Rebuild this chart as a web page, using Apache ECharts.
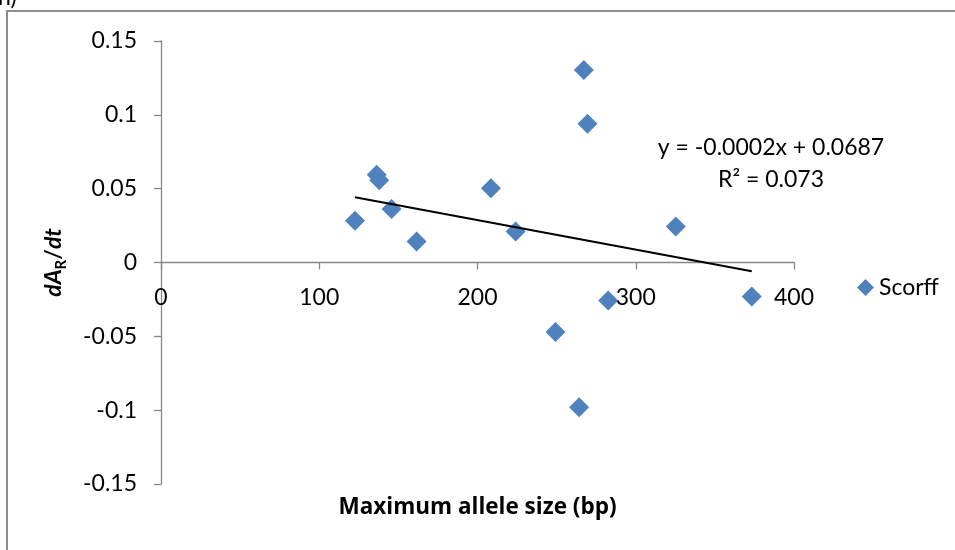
<!DOCTYPE html>
<html>
<head>
<meta charset="utf-8">
<script src="https://cdn.jsdelivr.net/npm/echarts@6/dist/echarts.min.js"></script>
<style>
  html, body { margin: 0; padding: 0; background: #fff; }
  #chart { width: 955px; height: 550px; }
</style>
</head>
<body>
<div id="chart"></div>
<script>
// Maximum allele size (bp) per locus and the rate of change of allelic richness
const alleleSize = [122.6, 136.3, 137.9, 145.7, 161.5, 208.5, 224.1, 249.3, 264.2, 267.2, 269.5, 282.6, 325.3, 373.3];
const rateAR    = [0.0282, 0.0594, 0.0557, 0.0363, 0.0142, 0.0503, 0.0210, -0.0471, -0.0981, 0.1304, 0.0939, -0.0257, 0.0244, -0.0230];

// Linear trend fitted to the points (as printed beside the line)
const trendSlope = -0.0002;
const trendIntercept = 0.0687;
const trendLabel = ['y = -0.0002x + 0.0687', 'R² = 0.073'];

const xTicks = ['0', '100', '200', '300', '400'];
const yTicks = ['-0.15', '-0.1', '-0.05', '0', '0.05', '0.1', '0.15'];

const FONT = 'Lato, "Open Sans", sans-serif';
const TITLE_FONT = '"Open Sans", Lato, sans-serif';
const AXIS_GREY = '#878787';
const MARK_BLUE = '#4F81BD';

const GRID = { left: 161, right: 161, top: 41, bottom: 66 };
const CHART_H = 550;
const Y_MIN = -0.15, Y_MAX = 0.15;
// the horizontal axis sits on y = 0, so shift it up from the grid bottom
const gridH = CHART_H - GRID.top - GRID.bottom;
const xAxisShift = gridH * (0 - Y_MIN) / (Y_MAX - Y_MIN);

const points = alleleSize.map((x, i) => [x, rateAR[i]]);
const xMin = Math.min(...alleleSize);
const xMax = Math.max(...alleleSize);
const trendLine = [xMin, xMax].map(x => [x, trendSlope * x + trendIntercept]);

const chart = echarts.init(document.getElementById('chart'), null, { renderer: 'canvas' });

chart.setOption({
  animation: false,
  backgroundColor: '#fff',
  grid: Object.assign({ containLabel: false }, GRID),
  title: {
    text: 'Maximum allele size (bp)',
    left: 'center',
    top: 491,
    textStyle: { fontFamily: TITLE_FONT, fontSize: 22.5, fontWeight: 'bold', color: '#000' }
  },
  legend: {
    data: [{ name: 'Scorff', icon: 'diamond' }],
    left: 852,
    top: 271,
    itemWidth: 17,
    itemHeight: 17,
    textStyle: { fontFamily: FONT, fontSize: 23, color: '#000' }
  },
  xAxis: {
    type: 'value',
    min: 0,
    max: 400,
    interval: 100,
    offset: -xAxisShift,
    splitLine: { show: false },
    axisLine: { onZero: false, lineStyle: { color: AXIS_GREY, width: 1.3 } },
    axisTick: { show: true, inside: false, length: 7, lineStyle: { color: AXIS_GREY, width: 1.3 } },
    axisLabel: {
      margin: 24,
      fontFamily: FONT,
      fontSize: 23,
      lineHeight: 23,
      color: '#000',
      formatter: v => xTicks[Math.round(v / 100)]
    }
  },
  yAxis: {
    type: 'value',
    min: Y_MIN,
    max: Y_MAX,
    interval: 0.05,
    splitLine: { show: false },
    axisLine: { onZero: false, lineStyle: { color: AXIS_GREY, width: 1.3 } },
    axisTick: { show: true, inside: false, length: 7, lineStyle: { color: AXIS_GREY, width: 1.3 } },
    axisLabel: {
      margin: 24,
      fontFamily: FONT,
      fontSize: 23,
      color: '#000',
      formatter: v => yTicks[Math.round((v - Y_MIN) / 0.05)]
    },
    name: '{it|dA}{sub|R}{n|/}{it|dt}',
    nameLocation: 'middle',
    nameRotate: 90,
    nameGap: 92,
    nameTextStyle: {
      rich: {
        it: { fontFamily: FONT, fontSize: 23, fontWeight: 'bold', fontStyle: 'italic', color: '#000', lineHeight: 30 },
        n:  { fontFamily: FONT, fontSize: 23, fontWeight: 'bold', color: '#000', lineHeight: 30 },
        sub:{ fontFamily: FONT, fontSize: 15, fontWeight: 'bold', color: '#000', lineHeight: 15, verticalAlign: 'bottom' }
      }
    }
  },
  series: [
    {
      name: 'Scorff',
      type: 'scatter',
      symbol: 'diamond',
      symbolSize: 20,
      itemStyle: { color: MARK_BLUE, opacity: 1 },
      data: points,
      z: 3
    },
    {
      name: 'trend',
      type: 'line',
      data: trendLine,
      symbol: 'none',
      lineStyle: { color: '#000', width: 2 },
      z: 4,
      silent: true
    }
  ],
  graphic: [
    {
      type: 'rect',
      shape: { x: 7, y: 11, width: 1000, height: 600 },
      style: { fill: 'none', stroke: '#8c8c8c', lineWidth: 2 },
      silent: true
    },
    {
      type: 'text',
      left: -2,
      top: -14,
      style: { text: 'h)', fontFamily: FONT, fontSize: 23, fill: '#000' },
      silent: true
    },
    {
      type: 'text',
      x: 771,
      y: 148 - 16,
      style: {
        text: trendLabel.join('\n'),
        fontFamily: FONT,
        fontSize: 23,
        lineHeight: 32,
        align: 'center',
        verticalAlign: 'top',
        fill: '#000'
      },
      silent: true
    }
  ]
});
</script>
</body>
</html>
